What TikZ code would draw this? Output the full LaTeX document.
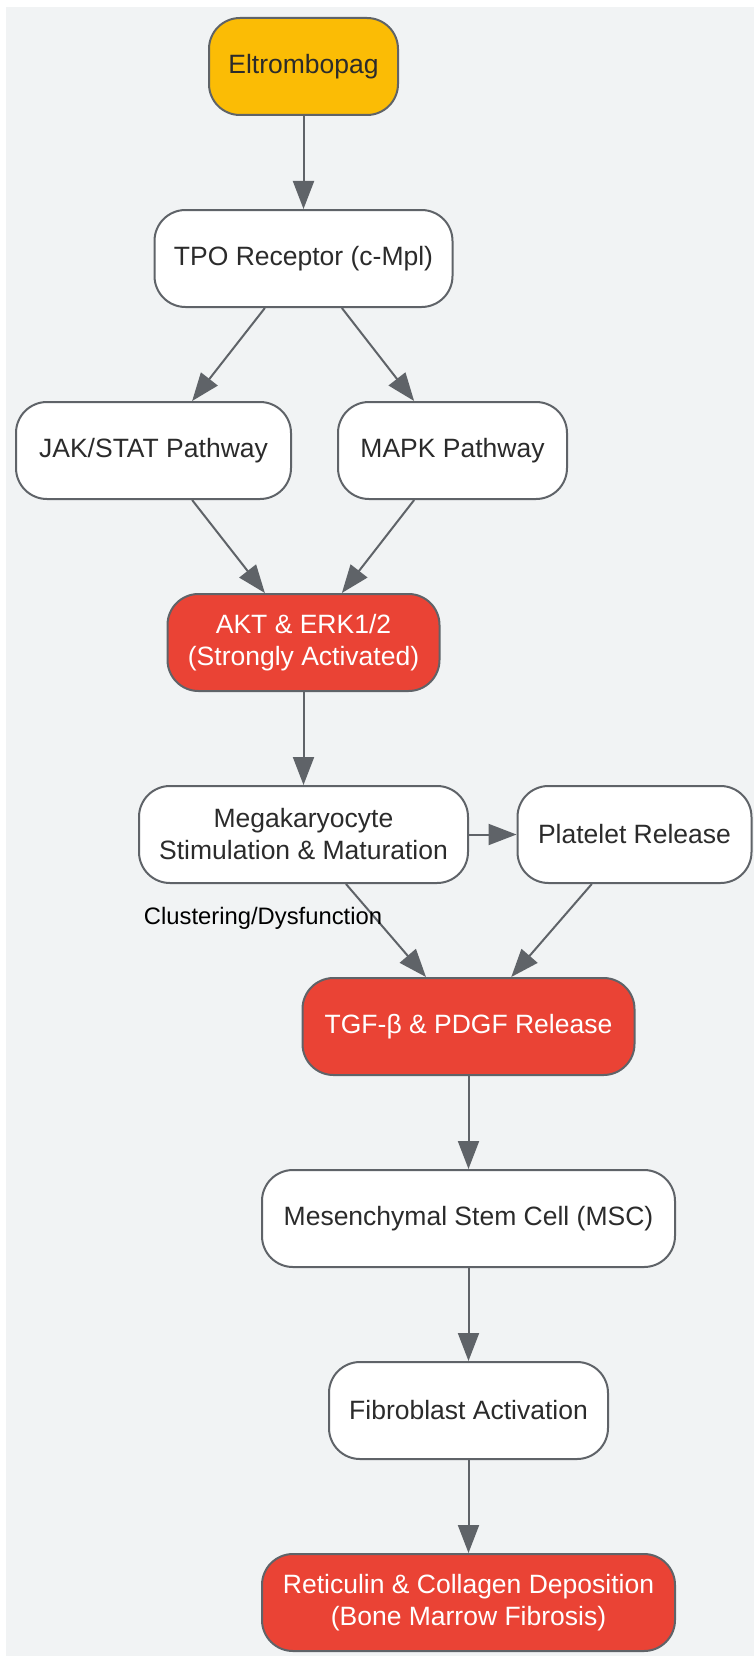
\documentclass[tikz,border=0pt]{standalone}
\usepackage{fontspec}
\setmainfont{Liberation Sans}
\usepackage{xcolor}
\usetikzlibrary{arrows.meta}
\definecolor{paneback}{HTML}{F1F3F4}
\definecolor{linegray}{HTML}{5F6368}
\definecolor{inkdark}{HTML}{2B2B2B}
\definecolor{drugyellow}{HTML}{FBBC05}
\definecolor{alarmred}{HTML}{EA4335}

\begin{document}
\begin{tikzpicture}[x=1pt,y=-1pt,
nodes={align=center},
stage/.style={draw=linegray,line width=2pt,fill=white,text=inkdark,
  rounded corners=31pt,minimum height=97pt,inner xsep=12pt,
  font=\fontsize{26.5}{32}\selectfont},
drug/.style={stage,fill=drugyellow},
alarm/.style={stage,fill=alarmred,text=white},
flow/.style={draw=linegray,line width=2pt,-{Triangle[length=28pt,width=21pt]}}]

% Canvas
\useasboundingbox (0,0) rectangle (754,1656);
\fill[paneback] (6,7) rectangle (754,1656);

% Nodes
\node[drug,minimum width=189pt] (elt) at (303.5,66.5) {Eltrombopag};
\node[stage,minimum width=298pt] (tpo) at (303.5,258.5) {TPO Receptor (c-Mpl)};
\node[stage,minimum width=275pt] (jak) at (153.5,450.5) {JAK/STAT Pathway};
\node[stage,minimum width=229pt] (mapk) at (452.5,450.5) {MAPK Pathway};
\node[alarm,minimum width=272pt] (akt) at (303.5,642.5) {AKT \& ERK1/2\\(Strongly Activated)};
\node[stage,minimum width=329pt] (mega) at (303.5,834.5) {Megakaryocyte\\Stimulation \& Maturation};
\node[stage,minimum width=234pt] (plat) at (634.5,834.5) {Platelet Release};
\node[alarm,minimum width=332pt] (tgf) at (468.5,1026.5) {TGF-β \& PDGF Release};
\node[stage,minimum width=413pt] (msc) at (468.5,1218.5) {Mesenchymal Stem Cell (MSC)};
\node[stage,minimum width=279pt] (fib) at (468.5,1410.5) {Fibroblast Activation};
\node[alarm,minimum width=413pt] (ret) at (468.5,1602.5) {Reticulin \& Collagen Deposition\\(Bone Marrow Fibrosis)};

% Edges
\draw[flow] (elt) -- (tpo);
\draw[flow] (tpo) -- (jak);
\draw[flow] (tpo) -- (mapk);
\draw[flow] (jak) -- (akt);
\draw[flow] (mapk) -- (akt);
\draw[flow] (akt) -- (mega);
\draw[flow] (mega) -- (plat);
\draw[flow] (mega) -- (tgf);
\draw[flow] (plat) -- (tgf);
\draw[flow] (tgf) -- (msc);
\draw[flow] (msc) -- (fib);
\draw[flow] (fib) -- (ret);

\node[font=\fontsize{23.8}{28}\selectfont,text=black] (clust) at (263,918) {Clustering/Dysfunction};

\end{tikzpicture}
\end{document}
